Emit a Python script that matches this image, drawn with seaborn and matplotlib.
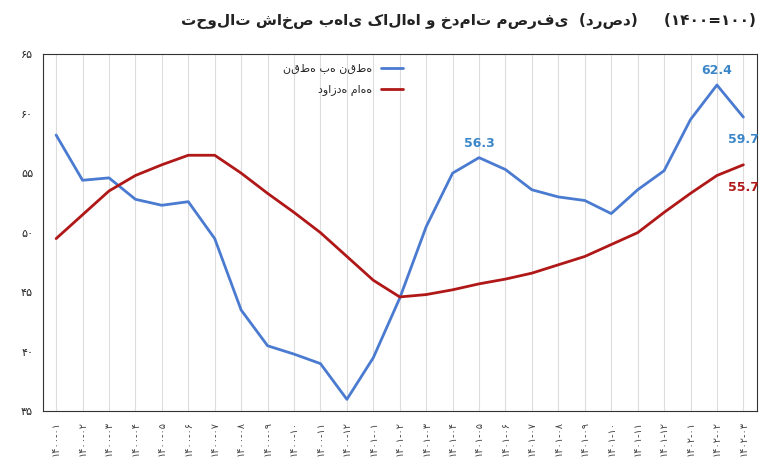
import matplotlib.pyplot as plt
import seaborn as sns
import pandas as pd

# Month labels 1400-01 .. 1402-03 (Persian digits)
fa = str.maketrans("0123456789", "۰۱۲۳۴۵۶۷۸۹")
months = [f"{y}-{m:02d}".translate(fa) for y, m in
          [(1400, i) for i in range(1, 13)] + [(1401, i) for i in range(1, 13)] + [(1402, i) for i in range(1, 4)]]

point_to_point = [58.2, 54.4, 54.6, 52.8, 52.3, 52.6, 49.5, 43.5, 40.5, 39.8, 39.0, 36.0, 39.5, 44.5,
                  50.5, 55.0, 56.3, 55.3, 53.6, 53.0, 52.7, 51.6, 53.6, 55.2, 59.5, 62.4, 59.7]
twelve_month = [49.5, 51.5, 53.5, 54.8, 55.7, 56.5, 56.5, 55.0, 53.3, 51.7, 50.0, 48.0, 46.0, 44.6,
                44.8, 45.2, 45.7, 46.1, 46.6, 47.3, 48.0, 49.0, 50.0, 51.7, 53.3, 54.8, 55.7]
y_ticks = [35, 40, 45, 50, 55, 60, 65]

df = pd.DataFrame({"x": range(len(months)), "p2p": point_to_point, "yr": twelve_month})

sns.set_style("white")
plt.rcParams["font.family"] = ["DejaVu Sans"]

fig = plt.figure(figsize=(7.8, 4.7), dpi=100)
ax = fig.add_axes([0.055, 0.125, 0.915, 0.76])
blue = "#4a7bd0"
red = "#b01818"
sns.lineplot(data=df, x="x", y="p2p", color=blue, lw=2, ax=ax, label="نقطه به نقطه")
sns.lineplot(data=df, x="x", y="yr", color=red, lw=2, ax=ax, label="دوازده ماهه")

ax.set_xlim(-0.5, len(months) - 0.5)
ax.set_ylim(35, 65)
ax.set_yticks(y_ticks)
ax.set_yticklabels([str(v).translate(fa) for v in y_ticks], fontsize=8)
ax.set_xticks(range(len(months)))
ax.set_xticklabels(months, rotation=90, fontsize=7, color="#444")
ax.xaxis.grid(True, color="#dddddd", lw=0.8)
ax.set_xlabel("")
ax.set_ylabel("")
for s in ax.spines.values():
    s.set_color("#333")

ax.text(16, 56.3 + 0.9, "56.3", color="#3a86c8", fontsize=9, fontweight="bold", ha="center")
ax.text(25, 62.4 + 0.9, "62.4", color="#3a86c8", fontsize=9, fontweight="bold", ha="center")
ax.text(26, 59.7 - 2.2, "59.7", color="#3a86c8", fontsize=9, fontweight="bold", ha="center")
ax.text(26, 55.7 - 2.2, "55.7", color=red, fontsize=9, fontweight="bold", ha="center")

ax.legend(loc="upper center", bbox_to_anchor=(0.42, 1.0), frameon=False, fontsize=8,
          markerfirst=False, labelspacing=1.0)

fig.text(0.6, 0.955, "تحولات شاخص بهای کالاها و خدمات مصرفی  (درصد)     (۱۴۰۰=۱۰۰)",
         ha="center", va="center", fontsize=11, fontweight="bold", color="#222")

fig.savefig("out.png", dpi=100)
